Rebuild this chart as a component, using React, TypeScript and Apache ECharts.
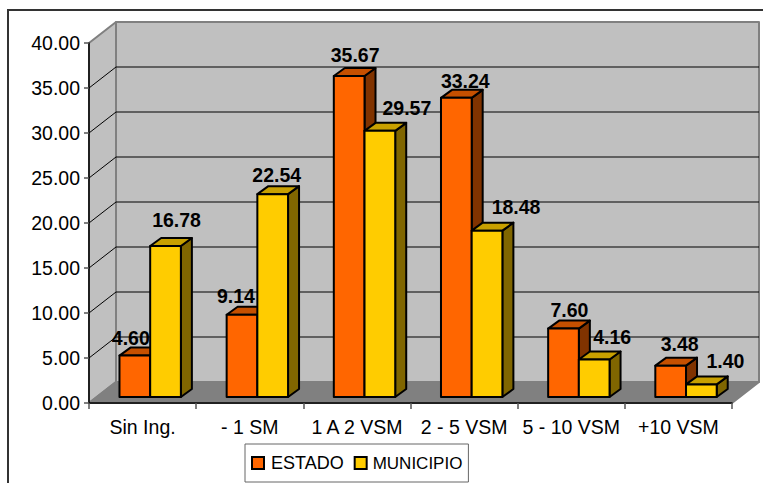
import React, { useEffect, useRef } from "react";
import * as echarts from "echarts";

const categories = ["Sin Ing.", "- 1 SM", "1 A 2 VSM", "2 - 5 VSM", "5 - 10 VSM", "+10 VSM"];
const estado = [4.6, 9.14, 35.67, 33.24, 7.6, 3.48];
const municipio = [16.78, 22.54, 29.57, 18.48, 4.16, 1.4];
const gridTicks = [5, 10, 15, 20, 25, 30, 35];

// Hand-placed label nudges, relative to the bar's front-top centre.
const estadoNudge = [[-4, -18], [-6, -19], [6, -21], [9, -17], [6, -19], [9, -22]];
const municipioNudge = [[11, -26], [4, -19], [27, -23], [29, -24], [18, -23], [24, -23]];

const FONT = "'Liberation Sans', Arial, sans-serif";
const WALL_DX = 27;
const WALL_DY = -21;
const BAR_W = 30.7;
const BAR_LIFT = 6;
const DEPTH_X = 11;
const DEPTH_Y = -8;

const poly = (points: number[][], fill: string, stroke: string, lineWidth = 2) => ({
  type: "polygon",
  shape: { points },
  style: { fill, stroke, lineWidth, lineJoin: "round" },
});

const seg = (x1: number, y1: number, x2: number, y2: number, stroke: string, lineWidth = 1) => ({
  type: "line",
  shape: { x1, y1, x2, y2 },
  style: { stroke, lineWidth },
});

// Draws one 3D bar: front face, top and right side, plus its value label.
function barRenderer(
  shift: number,
  front: string,
  top: string,
  side: string,
  nudges: number[][],
) {
  return (params: any, api: any) => {
    const i = api.value(0);
    const v = api.value(1);
    const [cx, yTop] = api.coord([i, v]);
    const [, yBase] = api.coord([i, 0]);
    const x0 = cx + shift;
    const x1 = x0 + BAR_W;
    const t = yTop - BAR_LIFT;
    const b = yBase - BAR_LIFT;
    const [nx, ny] = nudges[params.dataIndex];
    return {
      type: "group",
      children: [
        poly([[x1, t], [x1 + DEPTH_X, t + DEPTH_Y], [x1 + DEPTH_X, b + DEPTH_Y], [x1, b]], side, "#000"),
        poly([[x0, t], [x0 + DEPTH_X, t + DEPTH_Y], [x1 + DEPTH_X, t + DEPTH_Y], [x1, t]], top, "#000"),
        poly([[x0, t], [x1, t], [x1, b], [x0, b]], front, "#000"),
        {
          type: "text",
          style: {
            x: x0 + BAR_W / 2 + nx,
            y: t + ny,
            text: v.toFixed(2),
            fill: "#000",
            font: `bold 19.5px ${FONT}`,
            textAlign: "center",
            textVerticalAlign: "middle",
          },
        },
      ],
    };
  };
}

// Back wall, left wall and floor with the receding gridlines.
function renderRoom(_params: any, api: any) {
  const [xl, y40] = api.coord([0, 40]);
  const [, y0] = api.coord([0, 0]);
  const size = api.size([1, 0])[0];
  const left = xl - size / 2;
  const right = left + size * categories.length;
  const children: any[] = [
    poly([[left + WALL_DX, y40 + WALL_DY], [right + WALL_DX, y40 + WALL_DY], [right + WALL_DX, y0 + WALL_DY], [left + WALL_DX, y0 + WALL_DY]], "#C0C0C0", "#808080"),
    poly([[left, y40], [left + WALL_DX, y40 + WALL_DY], [left + WALL_DX, y0 + WALL_DY], [left, y0]], "#C0C0C0", "#808080"),
    poly([[left, y0], [left + WALL_DX, y0 + WALL_DY], [right + WALL_DX, y0 + WALL_DY], [right, y0]], "#808080", "#808080"),
  ];
  gridTicks.forEach((tick) => {
    const y = api.coord([0, tick])[1];
    children.push(seg(left, y, left + WALL_DX, y + WALL_DY, "#000"));
    children.push(seg(left + WALL_DX, y + WALL_DY, right + WALL_DX, y + WALL_DY, "#000"));
  });
  return { type: "group", children };
}

export default function App() {
  const ref = useRef<HTMLDivElement>(null);

  useEffect(() => {
    const chart = echarts.init(ref.current!, undefined, { renderer: "svg" });
    chart.setOption({
      animation: false,
      backgroundColor: "#fff",
      textStyle: { fontFamily: FONT },
      grid: { left: 89, top: 43, width: 643, height: 360, containLabel: false },
      legend: {
        left: 245,
        top: 444,
        padding: [10, 6, 10, 6],
        itemGap: 10,
        itemWidth: 12,
        itemHeight: 12,
        icon: "rect",
        backgroundColor: "#fff",
        borderColor: "#666",
        borderWidth: 1,
        textStyle: { color: "#000", fontSize: 18, fontFamily: FONT, padding: [0, 0, 0, 2] },
        data: [
          { name: "ESTADO" },
          { name: "MUNICIPIO", textStyle: { fontSize: 17, padding: [0, 0, 0, 1] } },
        ],
      },
      xAxis: {
        type: "category",
        data: categories,
        boundaryGap: true,
        z: 5,
        axisLine: { show: true, lineStyle: { color: "#000", width: 1.5 } },
        axisTick: { show: true, alignWithLabel: false, length: 6, lineStyle: { color: "#555", width: 1.5 } },
        axisLabel: { color: "#000", fontSize: 19.5, fontFamily: FONT, margin: 14, interval: 0 },
        splitLine: { show: false },
      },
      yAxis: {
        type: "value",
        min: 0,
        max: 40,
        interval: 5,
        z: 5,
        axisLine: { show: true, lineStyle: { color: "#000", width: 1.5 } },
        axisTick: { show: true, length: 5, lineStyle: { color: "#555", width: 1.5 } },
        axisLabel: { color: "#000", fontSize: 19.5, fontFamily: FONT, margin: 9, formatter: (v: number) => v.toFixed(2) },
        splitLine: { show: false },
      },
      series: [
        {
          type: "custom",
          name: "room",
          z: 1,
          silent: true,
          clip: false,
          renderItem: renderRoom,
          data: [[0, 0]],
          encode: { x: 0, y: 1 },
        },
        {
          type: "custom",
          name: "ESTADO",
          z: 3,
          clip: false,
          itemStyle: { color: "#FF6600", borderColor: "#000", borderWidth: 1.5 },
          renderItem: barRenderer(-23.1, "#FF6600", "#C65000", "#803300", estadoNudge),
          data: estado.map((v, i) => [i, v]),
          encode: { x: 0, y: 1 },
        },
        {
          type: "custom",
          name: "MUNICIPIO",
          z: 4,
          clip: false,
          itemStyle: { color: "#FFCC00", borderColor: "#000", borderWidth: 1.5 },
          renderItem: barRenderer(7.6, "#FFCC00", "#C8A000", "#806600", municipioNudge),
          data: municipio.map((v, i) => [i, v]),
          encode: { x: 0, y: 1 },
        },
      ],
      graphic: [
        {
          type: "polyline",
          z: 10,
          shape: { points: [[8, 490], [8, 10], [770, 10]] },
          style: { fill: "none", stroke: "#333", lineWidth: 2 },
        },
      ],
    });
    return () => chart.dispose();
  }, []);

  return <div ref={ref} style={{ position: "fixed", left: 0, top: 0, width: 763, height: 483 }} />;
}
